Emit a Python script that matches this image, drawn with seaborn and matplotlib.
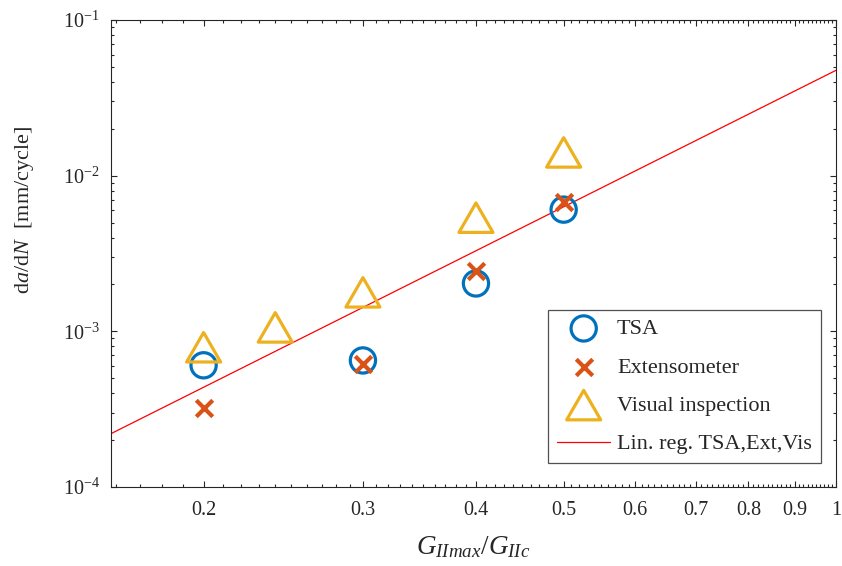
import numpy as np
import pandas as pd
import matplotlib
matplotlib.use("Agg")
import matplotlib.pyplot as plt
from matplotlib.path import Path
from matplotlib.ticker import FixedLocator, FixedFormatter, LogLocator, LogFormatterMathtext, NullFormatter
import seaborn as sns

# ---- data ----
tsa_x = [0.2, 0.3, 0.4, 0.5]
tsa_y = [6.05e-4, 6.5e-4, 2.03e-3, 6.05e-3]
ext_x = [0.2, 0.3, 0.4, 0.5]
ext_y = [3.2e-4, 6.2e-4, 2.43e-3, 6.8e-3]
vis_x = [0.2, 0.24, 0.3, 0.4, 0.5]
vis_y = [7.9e-4, 1.06e-3, 1.78e-3, 5.37e-3, 1.41e-2]
reg_x = [0.158, 1.0]
reg_y = [2.2e-4, 0.0475]
xtick_vals = [0.2, 0.3, 0.4, 0.5, 0.6, 0.7, 0.8, 0.9, 1.0]
xtick_labels = ["0.2", "0.3", "0.4", "0.5", "0.6", "0.7", "0.8", "0.9", "1"]
labels = ["TSA", "Extensometer", "Visual inspection", "Lin. reg. TSA,Ext,Vis"]

sns.set_style("ticks")
plt.rcParams["font.family"] = ["Liberation Serif", "DejaVu Serif"]
plt.rcParams["mathtext.fontset"] = "custom"
plt.rcParams["mathtext.rm"] = "Liberation Serif"
plt.rcParams["mathtext.it"] = "Liberation Serif:italic"
plt.rcParams["mathtext.bf"] = "Liberation Serif:bold"

c_blue = "#0072BD"
c_red = "#D95319"
c_yel = "#EDB120"
c_ax = "#262626"

fig = plt.figure(figsize=(8.42, 5.66), dpi=100)
ax = fig.add_axes([0.1318, 0.1396, 0.8611, 0.8251])
ax.set_xscale("log")
ax.set_yscale("log")

tri = Path([(-1, -0.866), (1, -0.866), (0, 0.866), (-1, -0.866)],
           [Path.MOVETO, Path.LINETO, Path.LINETO, Path.CLOSEPOLY])

sns.scatterplot(x=tsa_x, y=tsa_y, ax=ax, marker="o", s=330, facecolors="none",
                edgecolor=c_blue, linewidth=2.3, label=labels[0], zorder=3)
sns.scatterplot(x=ext_x, y=ext_y, ax=ax, marker="x", s=140, color=c_red,
                linewidth=3.0, label=labels[1], zorder=4)
sns.scatterplot(x=vis_x, y=vis_y, ax=ax, marker=tri, s=600, facecolors="none",
                edgecolor=c_yel, linewidth=2.3, label=labels[2], zorder=3)
sns.lineplot(x=reg_x, y=reg_y, ax=ax, color="#FF0000", linewidth=0.9,
             label=labels[3], zorder=2)

ax.set_xlim(0.158, 1.0)
ax.set_ylim(1e-4, 1e-1)

ax.xaxis.set_major_locator(FixedLocator(xtick_vals))
ax.xaxis.set_major_formatter(FixedFormatter(xtick_labels))
minor_x = [v / 100 for v in range(16, 100) if v % 10 != 0]
ax.xaxis.set_minor_locator(FixedLocator(minor_x))
ax.xaxis.set_minor_formatter(NullFormatter())
ax.yaxis.set_major_locator(LogLocator(base=10, numticks=10))
ax.yaxis.set_major_formatter(LogFormatterMathtext())
ax.yaxis.set_minor_locator(LogLocator(base=10, subs=np.arange(2, 10), numticks=20))
ax.yaxis.set_minor_formatter(NullFormatter())

ax.tick_params(which="both", direction="in", top=True, right=True, colors=c_ax,
               labelsize=14.5, width=0.8)
ax.tick_params(axis="x", which="major", length=4.5, pad=10)
ax.tick_params(axis="y", which="major", length=4.5, pad=8)
ax.tick_params(which="minor", length=2.5)
for sp in ax.spines.values():
    sp.set_visible(True)
    sp.set_color(c_ax)
    sp.set_linewidth(0.8)

ax.set_xlabel(r"$G_{IImax}/G_{IIc}$", fontsize=19.5, color=c_ax, labelpad=10)
ax.set_ylabel(r"d$a$/d$N$  [mm/cycle]", fontsize=16, color=c_ax)
ax.yaxis.set_label_coords(-0.104, 0.593)

leg = ax.legend(loc="lower right", bbox_to_anchor=(0.979, 0.051), borderaxespad=0,
                fontsize=16, frameon=True, fancybox=False, edgecolor=c_ax,
                handlelength=2.4, labelspacing=0.8, borderpad=0.4, handletextpad=0.3)
leg.get_frame().set_linewidth(0.9)
for t in leg.get_texts():
    t.set_color(c_ax)

fig.savefig("out.png", dpi=100, facecolor="white")
